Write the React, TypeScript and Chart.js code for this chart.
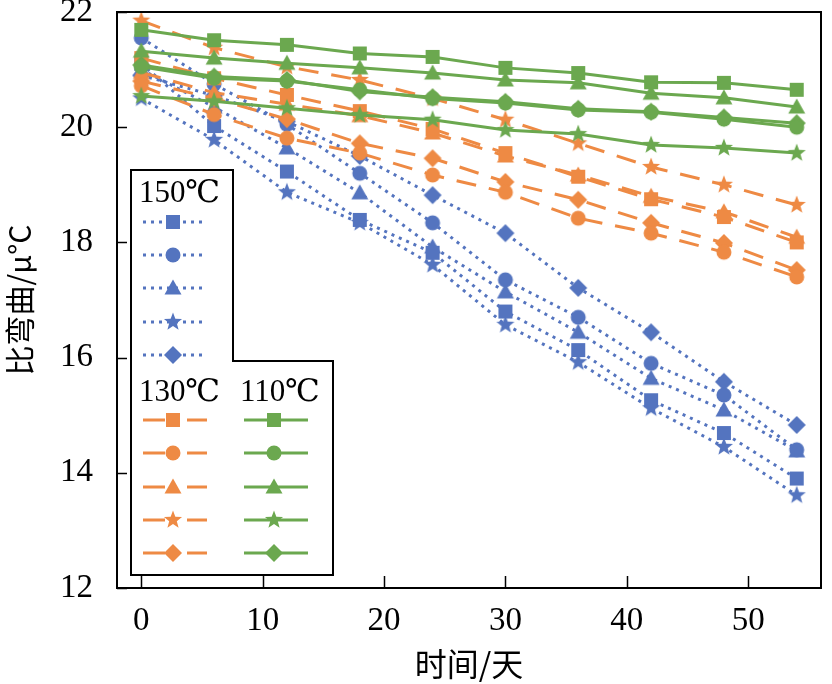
import React, { useEffect, useRef } from 'react';
import { Chart, registerables } from 'chart.js';

Chart.register(...registerables);

// ---- data ----
const days = [0, 6, 12, 18, 24, 30, 36, 42, 48, 54];

const blueSquare = [21.1, 20.02, 19.23, 18.39, 17.82, 16.8, 16.13, 15.26, 14.69, 13.9];
const blueCircle = [21.55, 20.75, 20.05, 19.2, 18.34, 17.35, 16.7, 15.9, 15.35, 14.4];
const blueTriangle = [21.0, 20.35, 19.64, 18.86, 17.92, 17.14, 16.44, 15.64, 15.09, 14.38];
const blueStar = [20.5, 19.78, 18.87, 18.34, 17.61, 16.57, 15.92, 15.12, 14.45, 13.61];
const blueDiamond = [20.9, 20.55, 20.1, 19.5, 18.82, 18.16, 17.21, 16.44, 15.58, 14.83];

const orangeSquare = [21.2, 20.85, 20.56, 20.28, 19.97, 19.55, 19.14, 18.75, 18.44, 18.0];
const orangeCircle = [20.72, 20.22, 19.81, 19.55, 19.17, 18.87, 18.42, 18.16, 17.83, 17.4];
const orangeTriangle = [20.95, 20.6, 20.4, 20.2, 19.9, 19.5, 19.17, 18.8, 18.53, 18.09];
const orangeStar = [21.85, 21.38, 21.05, 20.82, 20.5, 20.13, 19.72, 19.31, 19.0, 18.65];
const orangeDiamond = [20.8, 20.5, 20.14, 19.72, 19.46, 19.05, 18.74, 18.34, 17.99, 17.52];

const greenSquare = [21.69, 21.51, 21.43, 21.28, 21.22, 21.03, 20.94, 20.78, 20.77, 20.65];
const greenCircle = [21.05, 20.85, 20.8, 20.65, 20.5, 20.42, 20.3, 20.26, 20.14, 20.0];
const greenTriangle = [21.32, 21.2, 21.11, 21.03, 20.94, 20.82, 20.77, 20.59, 20.51, 20.35];
const greenStar = [20.54, 20.45, 20.33, 20.21, 20.13, 19.95, 19.88, 19.69, 19.64, 19.55];
const greenDiamond = [21.08, 20.88, 20.82, 20.62, 20.52, 20.44, 20.32, 20.27, 20.17, 20.07];

const shapes = ['square', 'circle', 'triangle', 'star', 'diamond'];
const groupLabels = ['150℃', '130℃', '110℃'];
const xTicks = [0, 10, 20, 30, 40, 50];
const yTicks = [12, 14, 16, 18, 20, 22];
const xTitle = '时间/天';
const yTitle = '比弯曲/μ°C';

const BLUE = '#5474BF';
const ORANGE = '#EE8A44';
const GREEN = '#6BA84F';

const SERIF = "'Liberation Serif', 'Times New Roman', 'DejaVu Serif', serif";
const CJK = "'Noto Sans CJK SC', 'Liberation Serif', serif";

function drawMarker(ctx: CanvasRenderingContext2D, shape: string, cx: number, cy: number, color: string) {
  ctx.save();
  ctx.fillStyle = color;
  ctx.setLineDash([]);
  ctx.beginPath();
  if (shape === 'square') {
    ctx.rect(cx - 7, cy - 7, 14, 14);
  } else if (shape === 'circle') {
    ctx.arc(cx, cy, 7.5, 0, Math.PI * 2);
  } else if (shape === 'triangle') {
    ctx.moveTo(cx, cy - 8.5);
    ctx.lineTo(cx + 8.5, cy + 6.5);
    ctx.lineTo(cx - 8.5, cy + 6.5);
    ctx.closePath();
  } else if (shape === 'star') {
    for (let i = 0; i < 10; i++) {
      const r = i % 2 === 0 ? 9.5 : 4;
      const a = -Math.PI / 2 + (i * Math.PI) / 5;
      const px = cx + r * Math.cos(a);
      const py = cy + r * Math.sin(a);
      if (i === 0) ctx.moveTo(px, py);
      else ctx.lineTo(px, py);
    }
    ctx.closePath();
  } else {
    ctx.moveTo(cx, cy - 9);
    ctx.lineTo(cx + 9, cy);
    ctx.lineTo(cx, cy + 9);
    ctx.lineTo(cx - 9, cy);
    ctx.closePath();
  }
  ctx.fill();
  ctx.restore();
}

function markerImage(shape: string, color: string) {
  const c = document.createElement('canvas');
  c.width = 22;
  c.height = 22;
  const ctx = c.getContext('2d') as CanvasRenderingContext2D;
  drawMarker(ctx, shape, 11, 11, color);
  return c;
}

function zeroPad(s: any) {
  s.paddingLeft = 0;
  s.paddingRight = 0;
  s.paddingTop = 0;
  s.paddingBottom = 0;
}

export default function App() {
  const ref = useRef<HTMLCanvasElement | null>(null);

  useEffect(() => {
    const canvas = ref.current;
    if (!canvas) return;

    const groups = [
      { color: BLUE, dash: [3, 5], order: 3, series: [blueSquare, blueCircle, blueTriangle, blueStar, blueDiamond] },
      { color: ORANGE, dash: [20, 13], order: 2, series: [orangeSquare, orangeCircle, orangeTriangle, orangeStar, orangeDiamond] },
      { color: GREEN, dash: [] as number[], order: 1, series: [greenSquare, greenCircle, greenTriangle, greenStar, greenDiamond] },
    ];

    const datasets: any[] = [];
    groups.forEach((g, gi) => {
      g.series.forEach((vals, si) => {
        datasets.push({
          label: groupLabels[gi] + ' ' + shapes[si],
          data: days.map((d, i) => ({ x: d, y: vals[i] })),
          borderColor: g.color,
          backgroundColor: g.color,
          borderWidth: 3,
          borderDash: g.dash,
          pointStyle: markerImage(shapes[si], g.color),
          pointRadius: 8,
          tension: 0,
          fill: false,
          order: g.order,
        });
      });
    });

    const decor = {
      id: 'decor',
      afterDraw(chart: any) {
        const ctx = chart.ctx as CanvasRenderingContext2D;
        const a = chart.chartArea;
        const xs = chart.scales.x;
        const ys = chart.scales.y;
        ctx.save();
        // border
        ctx.strokeStyle = '#000';
        ctx.lineWidth = 2;
        ctx.setLineDash([]);
        ctx.strokeRect(a.left, a.top, a.right - a.left, a.bottom - a.top);
        // inward ticks
        ctx.beginPath();
        yTicks.forEach((v) => {
          const y = Math.round(ys.getPixelForValue(v)) + 0.5;
          ctx.moveTo(a.left, y);
          ctx.lineTo(a.left + 10, y);
        });
        xTicks.forEach((v) => {
          const x = Math.round(xs.getPixelForValue(v)) + 0.5;
          ctx.moveTo(x, a.bottom);
          ctx.lineTo(x, a.bottom - 12);
        });
        ctx.lineWidth = 1.5;
        ctx.stroke();

        // axis titles
        ctx.fillStyle = '#000';
        ctx.font = '32px ' + CJK;
        ctx.textAlign = 'center';
        ctx.textBaseline = 'middle';
        ctx.fillText(xTitle, (a.left + a.right) / 2, 664);
        ctx.save();
        ctx.translate(20, (a.top + a.bottom) / 2);
        ctx.rotate(-Math.PI / 2);
        ctx.font = '30px ' + CJK;
        ctx.fillText(yTitle, 0, 0);
        ctx.restore();

        // legend box
        ctx.beginPath();
        ctx.moveTo(131, 170);
        ctx.lineTo(233, 170);
        ctx.lineTo(233, 361);
        ctx.lineTo(333, 361);
        ctx.lineTo(333, 575);
        ctx.lineTo(131, 575);
        ctx.closePath();
        ctx.fillStyle = '#fff';
        ctx.fill();
        ctx.lineWidth = 2;
        ctx.strokeStyle = '#000';
        ctx.stroke();

        ctx.fillStyle = '#000';
        ctx.font = '31px ' + SERIF;
        ctx.textAlign = 'left';
        ctx.textBaseline = 'middle';
        ctx.fillText(groupLabels[0], 139, 194);
        ctx.fillText(groupLabels[1], 139, 393);
        ctx.fillText(groupLabels[2], 240, 393);

        const rowsBlue = [222, 255, 288, 322, 355];
        const rowsLow = [420, 453, 487, 520, 553];
        const legendRows = [
          { x0: 143, x1: 207, mx: 173, rows: rowsBlue },
          { x0: 143, x1: 207, mx: 173, rows: rowsLow },
          { x0: 244, x1: 308, mx: 274, rows: rowsLow },
        ];
        groups.forEach((g, gi) => {
          const L = legendRows[gi];
          shapes.forEach((s, si) => {
            const y = L.rows[si];
            ctx.beginPath();
            ctx.strokeStyle = g.color;
            ctx.lineWidth = 3;
            ctx.setLineDash(gi === 1 ? [22, 22] : g.dash);
            ctx.moveTo(L.x0, y);
            ctx.lineTo(L.x1, y);
            ctx.stroke();
            ctx.setLineDash([]);
            drawMarker(ctx, s, L.mx, y, g.color);
          });
        });
        ctx.restore();
      },
    };

    const chart = new Chart(canvas, {
      type: 'line',
      data: { datasets },
      options: {
        responsive: false,
        animation: false,
        devicePixelRatio: 1,
        layout: { padding: { top: 12, right: 1, left: 0, bottom: 0 } },
        plugins: { legend: { display: false }, tooltip: { enabled: false } },
        scales: {
          x: {
            type: 'linear',
            min: -2,
            max: 56,
            grid: { display: false },
            border: { display: false },
            ticks: {
              stepSize: 10,
              includeBounds: false,
              padding: 6,
              color: '#000',
              font: { family: SERIF, size: 33 },
              maxRotation: 0,
            },
            afterFit: (s: any) => {
              s.height = 96;
              zeroPad(s);
            },
          },
          y: {
            type: 'linear',
            min: 12,
            max: 22,
            grid: { display: false },
            border: { display: false },
            ticks: {
              stepSize: 2,
              padding: 16,
              color: '#000',
              font: { family: SERIF, size: 33 },
            },
            afterFit: (s: any) => {
              s.width = 117;
              zeroPad(s);
            },
          },
        },
      } as any,
      plugins: [decor],
    });

    return () => chart.destroy();
  }, []);

  return (
    <div style={{ position: 'absolute', left: 0, top: 0, width: 832, height: 684, background: '#fff' }}>
      <canvas ref={ref} width={832} height={684} />
    </div>
  );
}
